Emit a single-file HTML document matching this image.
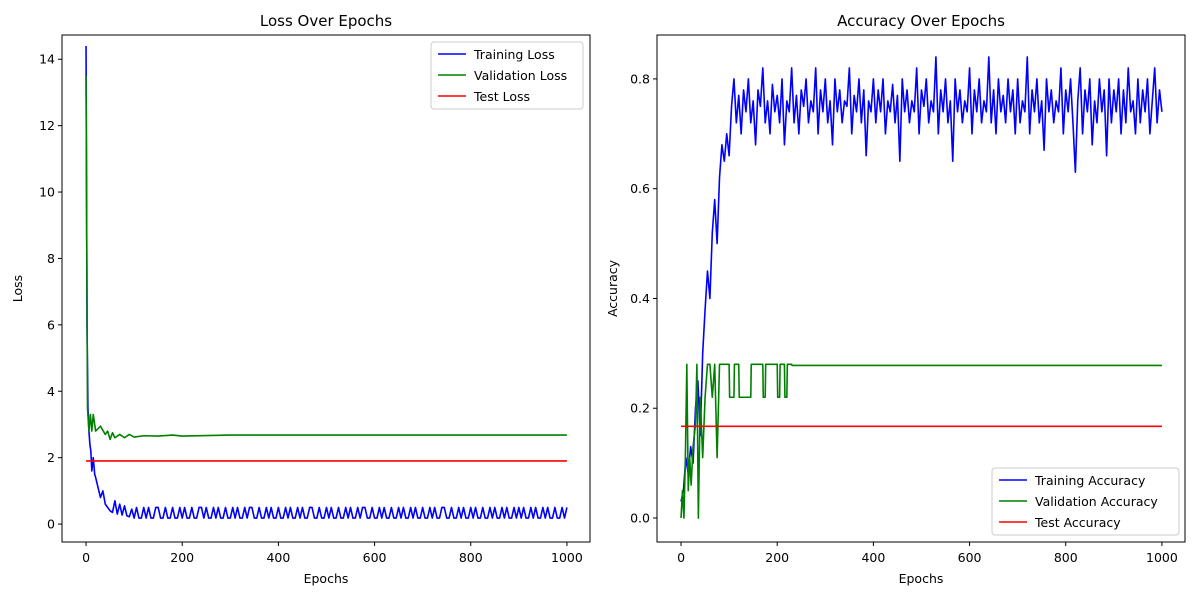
<!DOCTYPE html>
<html><head><meta charset="utf-8"><style>
body{margin:0;background:#fff}
svg{font-family:"DejaVu Sans","Liberation Sans",sans-serif}
</style></head><body>
<svg id="fig" width="1200" height="600" xmlns="http://www.w3.org/2000/svg"></svg>
<script>
// ---- data ----
const lossEarlyX = [0,2,4,6,8,10,12,15,18,20,25,30,35,40,45,50,55,60,65,70,75,80,85,90,95];
const trainLossEarly = [14.4,6,3.5,2.8,2.4,2.2,1.6,2.0,1.5,1.4,1.1,0.8,1.0,0.6,0.5,0.4,0.35,0.7,0.3,0.6,0.27,0.55,0.25,0.22,0.45];
const trainLossTail = [.18,.5,.18,.18,.5,.18,.5,.18,.18,.5,.5,.18,.18,.5,.18,.18,.5,.18,.18,.5,
.18,.5,.18,.18,.5,.18,.18,.5,.5,.18,.5,.18,.18,.5,.18,.5,.18,.18,.5,.18,
.18,.5,.18,.5,.18,.18,.5,.18,.5,.5,.18,.18,.5,.18,.18,.5,.18,.5,.18,.18,
.5,.18,.18,.5,.18,.5,.18,.18,.5,.18,.5,.18,.18,.5,.5,.18,.18,.5,.18,.18,
.5,.18,.5,.18,.18,.5,.18,.18,.5,.18,.5,.18,.18,.5,.18,.5,.5,.18,.18,.5,
.18,.18,.5,.18,.5,.18,.18,.5,.18,.18,.5,.18,.5,.18,.18,.5,.18,.5,.18,.18,
.5,.18,.18,.5,.18,.5,.18,.18,.5,.5,.18,.18,.5,.18,.18,.5,.18,.5,.18,.18,
.5,.18,.5,.18,.18,.5,.18,.18,.5,.18,.5,.18,.18,.5,.18,.5,.18,.18,.5,.18,.5,
.18,.5,.18,.18,.5,.18,.5,.18,.18,.5,.18,.5,.18,.18,.5,.18,.18,.5,.18,.5];
const valLossX = [0,3,6,9,12,15,20,30,40,45,50,55,60,70,80,90,100,120,150,180,200,300,1000];
const valLoss = [13.5,3.5,2.8,3.3,2.8,3.3,2.8,2.95,2.7,2.8,2.55,2.75,2.6,2.7,2.6,2.7,2.62,2.66,2.65,2.68,2.65,2.68,2.68];
const testLoss = 1.9;

const accEarlyX = [0,5,10,15,20,25,30,35,40,45,50,55,60,65,70,75,80,85,90,95,100];
const trainAccEarly = [0.03,0.05,0.11,0.08,0.13,0.1,0.2,0.25,0.15,0.3,0.38,0.45,0.4,0.52,0.58,0.5,0.62,0.68,0.65,0.7,0.66];
const trainAccTail = [.75,.8,.72,.77,.7,.78,.74,.8,.72,.76,.68,.78,.75,.82,.72,.76,.7,.79,.74,.77,
.72,.8,.68,.76,.74,.82,.72,.77,.7,.78,.75,.8,.72,.76,.74,.82,.7,.78,.74,.8,
.72,.76,.68,.8,.74,.78,.72,.76,.75,.82,.7,.77,.74,.8,.72,.78,.66,.76,.74,.8,
.72,.78,.74,.8,.7,.76,.74,.79,.72,.77,.65,.8,.74,.78,.72,.76,.74,.82,.7,.78,
.75,.8,.72,.76,.74,.84,.7,.78,.74,.8,.72,.76,.65,.8,.74,.78,.72,.76,.74,.82,
.7,.78,.74,.8,.72,.76,.74,.84,.72,.78,.7,.8,.74,.77,.72,.8,.74,.78,.7,.8,
.72,.76,.74,.84,.7,.78,.74,.8,.72,.76,.67,.8,.74,.78,.72,.76,.74,.82,.7,.78,
.74,.8,.72,.63,.76,.82,.7,.78,.74,.8,.68,.76,.72,.8,.74,.78,.66,.8,.72,.78,
.74,.8,.7,.78,.72,.82,.74,.76,.7,.8,.72,.78,.74,.8,.7,.76,.82,.72,.78,.74];
const valAccX = [0,3,6,9,12,15,18,21,25,30,33,36,40,45,50,55,60,65,70,75,80,85,90,100,101,110,111,120,121,145,146,150,151,170,171,175,176,180,181,200,201,205,206,215,216,220,221,230,231,1000];
const valAcc = [0,0.05,0,0.11,0.28,0.05,0.11,0.06,0.13,0.17,0.28,0,0.22,0.11,0.22,0.28,0.28,0.22,0.28,0.11,0.28,0.28,0.28,0.28,0.22,0.22,0.28,0.28,0.22,0.22,0.28,0.28,0.28,0.28,0.22,0.22,0.28,0.28,0.28,0.28,0.22,0.22,0.28,0.28,0.22,0.22,0.28,0.28,0.278,0.278];
const testAcc = 0.167;
const xTicks = [0,200,400,600,800,1000];
const lossTicks = [0,2,4,6,8,10,12,14];
const accTicks = [0,0.2,0.4,0.6,0.8];

const NS="http://www.w3.org/2000/svg", svg=document.getElementById('fig');
function mk(tag,attrs,parent){const e=document.createElementNS(NS,tag);for(const k in attrs)e.setAttribute(k,attrs[k]);(parent||svg).appendChild(e);return e;}
function txt(s,attrs){const e=mk('text',attrs);e.textContent=s;return e;}

function axes(o){
  const sx=v=>o.x0+(v-o.xmin)/(o.xmax-o.xmin)*(o.x1-o.x0);
  const sy=v=>o.y1-(v-o.ymin)/(o.ymax-o.ymin)*(o.y1-o.y0);
  const g=mk('g',{});
  
  
  const cp=mk('clipPath',{id:o.name+'-clip'},g);
  mk('rect',{x:o.x0,y:o.y0,width:o.x1-o.x0,height:o.y1-o.y0},cp);
  xTicks.forEach(t=>{const x=sx(t);mk('line',{x1:x,x2:x,y1:o.y1,y2:o.y1+4,stroke:'#000'},g);
    const e=txt(String(t),{x:x,y:o.y1+20,'text-anchor':'middle','font-size':12.5});
    });
  o.yticks.forEach(t=>{const y=sy(t);mk('line',{x1:o.x0-4,x2:o.x0,y1:y,y2:y,stroke:'#000'},g);
    const e=txt(o.fmt(t),{x:o.x0-7,y:y+4.5,'text-anchor':'end','font-size':12.5});
    });
  const lines=mk('g',{'clip-path':`url(#${o.name}-clip)`},g);
  o.series.forEach(s=>{
    const p=mk('polyline',{points:s.x.map((x,i)=>sx(x)+','+sy(s.y[i])).join(' '),fill:'none',stroke:s.c,'stroke-width':1.6,'stroke-linejoin':'round'},lines);
    
  });
  const fr=mk('rect',{x:o.x0,y:o.y0,width:o.x1-o.x0,height:o.y1-o.y0,fill:'none',stroke:'#000','stroke-width':1},g);
  
  const t=txt(o.title,{x:(o.x0+o.x1)/2,y:o.y0-9,'text-anchor':'middle','font-size':15});
  
  const xl=txt('Epochs',{x:(o.x0+o.x1)/2,y:o.y1+41,'text-anchor':'middle','font-size':12.5});
  
  const yx=o.x0-40, yy=(o.y0+o.y1)/2;
  const yl=txt(o.ylabel,{x:yx,y:yy,'text-anchor':'middle','font-size':12.5,transform:`rotate(-90 ${yx} ${yy})`});
  
  const L=o.legend;
  const lg=mk('g',{});
  
  mk('rect',{x:L.x,y:L.y,width:L.w,height:67,fill:'#fff',stroke:'#ccc',rx:3},lg);
  o.series.forEach((s,i)=>{const y=L.y+12+i*21;
    mk('line',{x1:L.x+7,x2:L.x+35,y1:y,y2:y,stroke:s.c,'stroke-width':1.6},lg);
    const e=mk('text',{x:L.x+43,y:y+5,'font-size':12.5},lg);e.textContent=s.label;
    });
}
// tail samples spread evenly from first tail epoch to epoch 1000
const tailX=(start,n)=>Array.from({length:n},(_,i)=>start+i*(1000-start)/(n-1));
const tlX=lossEarlyX.concat(tailX(100,trainLossTail.length));
const taX=accEarlyX.concat(tailX(105,trainAccTail.length));
axes({name:'loss',x0:62,x1:590,y0:35,y1:542,xmin:-50,xmax:1048,ymin:-0.54,ymax:14.73,
  yticks:lossTicks,fmt:v=>String(v),title:'Loss Over Epochs',ylabel:'Loss',
  legend:{x:431,y:42,w:152},
  series:[{id:'training-loss-line',label:'Training Loss',c:'#0000ff',x:tlX,y:trainLossEarly.concat(trainLossTail)},
          {id:'validation-loss-line',label:'Validation Loss',c:'#008000',x:valLossX,y:valLoss},
          {id:'test-loss-line',label:'Test Loss',c:'#ff0000',x:[0,1000],y:[testLoss,testLoss]}]});
axes({name:'accuracy',x0:657,x1:1185,y0:35,y1:542,xmin:-50,xmax:1048,ymin:-0.0437,ymax:0.880,
  yticks:accTicks,fmt:v=>v.toFixed(1),title:'Accuracy Over Epochs',ylabel:'Accuracy',
  legend:{x:992,y:468,w:187},
  series:[{id:'training-accuracy-line',label:'Training Accuracy',c:'#0000ff',x:taX,y:trainAccEarly.concat(trainAccTail)},
          {id:'validation-accuracy-line',label:'Validation Accuracy',c:'#008000',x:valAccX,y:valAcc},
          {id:'test-accuracy-line',label:'Test Accuracy',c:'#ff0000',x:[0,1000],y:[testAcc,testAcc]}]});
</script>
</body></html>
